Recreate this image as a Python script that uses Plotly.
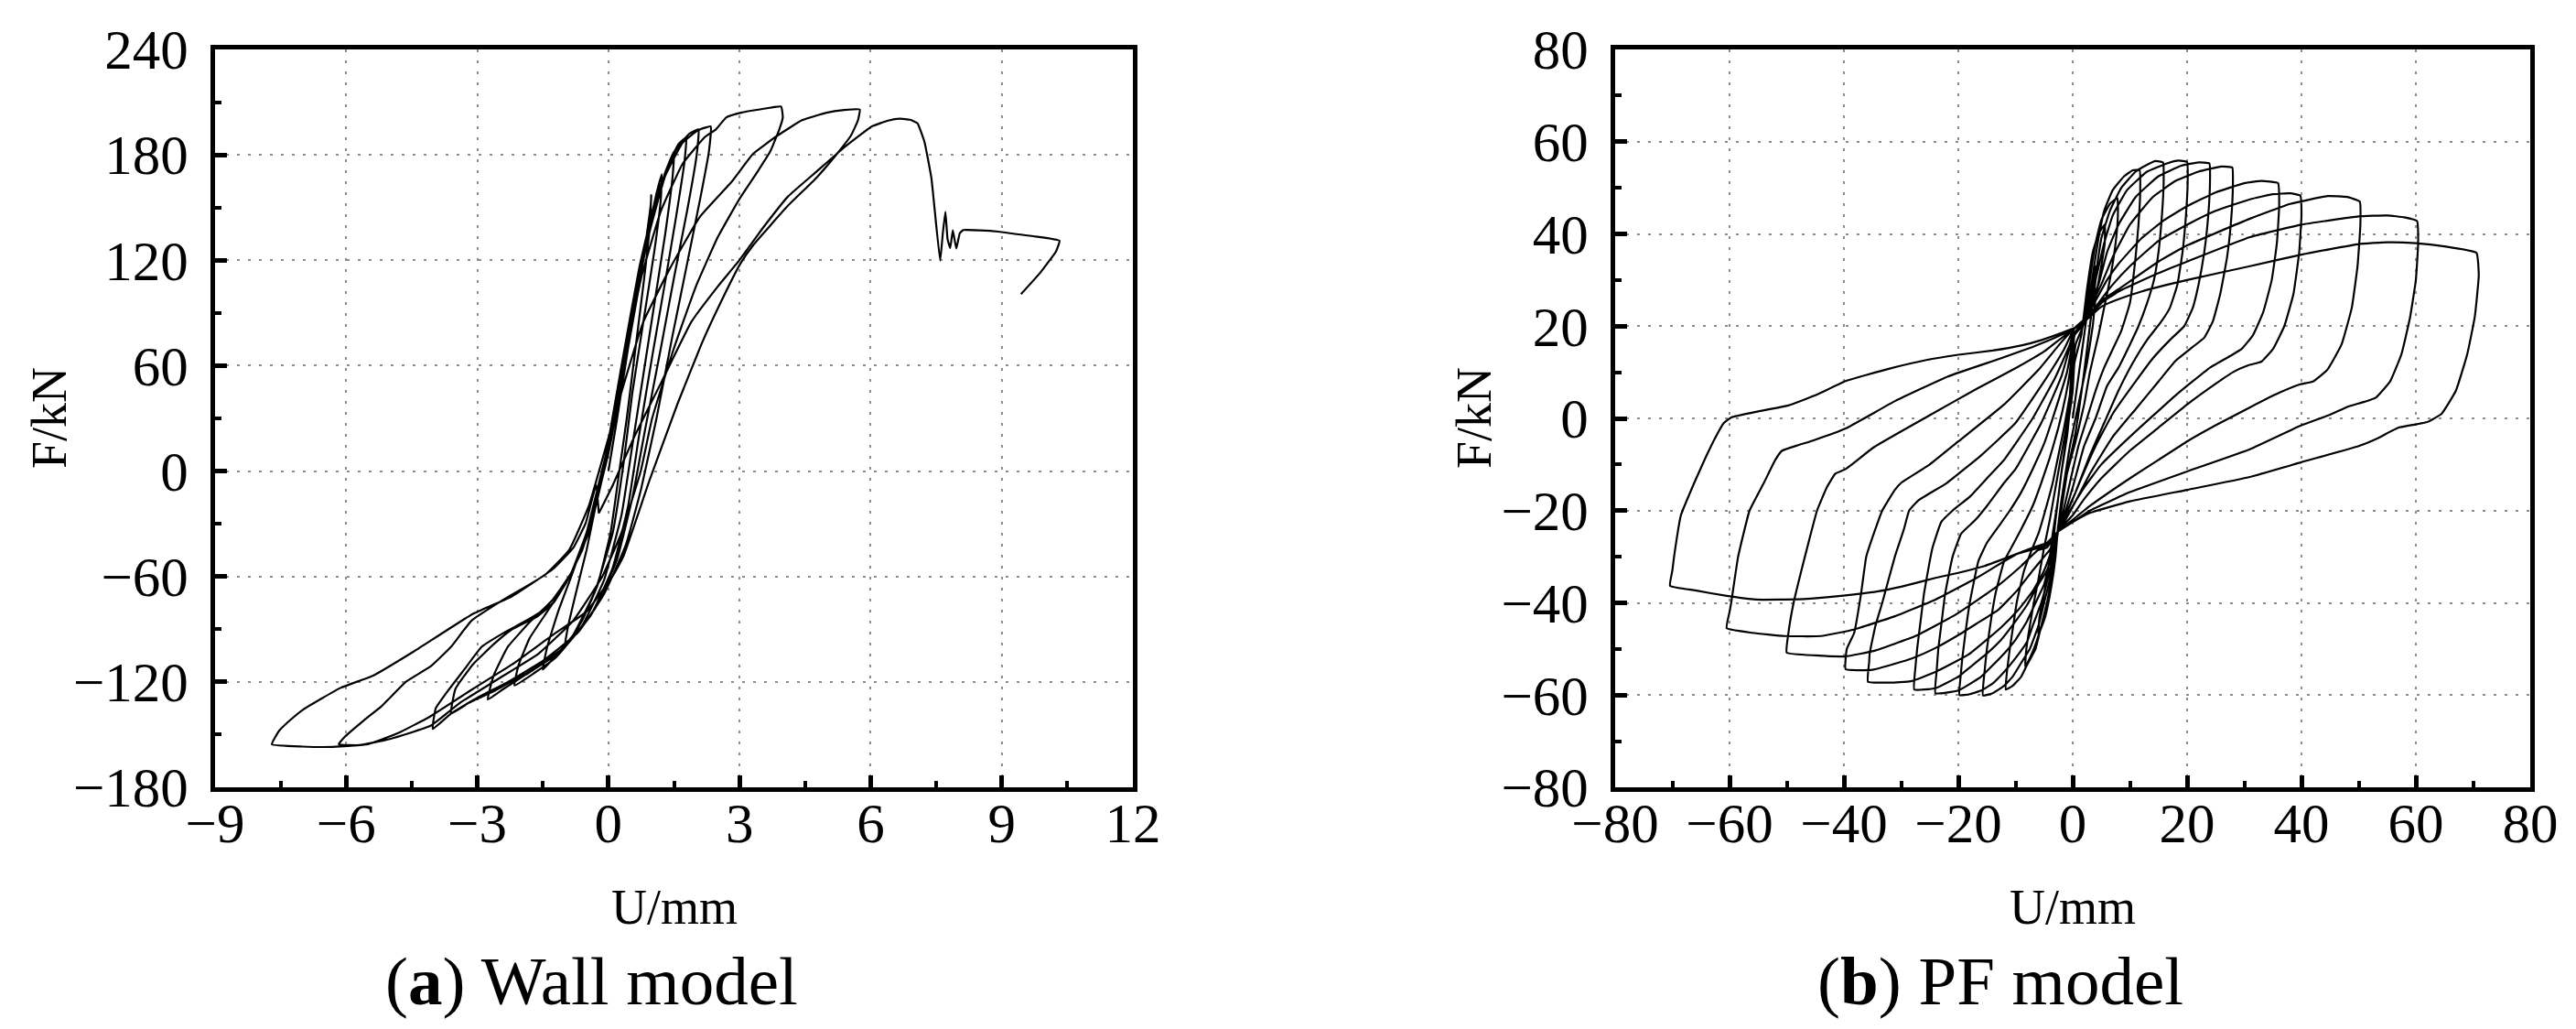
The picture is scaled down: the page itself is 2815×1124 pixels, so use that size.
import plotly.graph_objects as go

# ---------------- (a) Wall model: hysteresis loops, (U mm, F kN) ----------------
W_LOOP_01 = [(0, 0), (0.2, 30), (0.45, 70), (0.7, 105), (0.88, 135), (0.97, 152), (0.98, 157), (0.95, 140),
             (0.82, 110), (0.62, 70), (0.42, 30), (0.25, 0), (0.05, -35), (-0.25, -65), (-0.6, -85),
             (-0.85, -95), (-1.0, -100), (-0.92, -88), (-0.75, -70), (-0.5, -45), (-0.25, -15), (0.0, 10)]
W_LOOP_02 = [(0.3, 50), (0.6, 95), (0.9, 135), (1.1, 158), (1.22, 169), (1.2, 155), (1.05, 125), (0.8, 85),
             (0.55, 45), (0.35, 5), (0.1, -35), (-0.3, -68), (-0.8, -93), (-1.2, -105), (-1.5, -113),
             (-1.4, -100), (-1.15, -80), (-0.85, -60), (-0.5, -35), (-0.2, -8), (0.05, 20)]
W_LOOP_03 = [(0.35, 60), (0.7, 110), (1.0, 145), (1.3, 170), (1.5, 182), (1.47, 168), (1.3, 135), (1.05, 95),
             (0.8, 55), (0.55, 15), (0.3, -25), (-0.1, -62), (-0.6, -88), (-1.2, -106), (-1.7, -115),
             (-2.15, -122), (-2.05, -110), (-1.8, -95), (-1.4, -80), (-1.0, -65), (-0.6, -45), (-0.3, -20),
             (-0.05, 10)]
W_LOOP_04 = [(0.3, 60), (0.7, 115), (1.05, 152), (1.4, 176), (1.6, 186), (1.78, 190), (1.74, 176), (1.55, 145),
             (1.3, 108), (1.0, 65), (0.7, 20), (0.45, -20), (0.1, -55), (-0.4, -82), (-1.1, -103), (-1.9, -116),
             (-2.4, -124), (-2.76, -130), (-2.62, -116), (-2.3, -100), (-1.8, -86), (-1.3, -74), (-0.85, -58),
             (-0.45, -35), (-0.15, -5), (0.1, 25)]
W_LOOP_05 = [(0.4, 70), (0.8, 125), (1.2, 163), (1.55, 183), (1.85, 192), (2.06, 194.5), (2.02, 180), (1.8, 148),
             (1.5, 110), (1.2, 70), (0.85, 25), (0.55, -15), (0.2, -50), (-0.3, -78), (-1.0, -100), (-1.8, -114),
             (-2.6, -125), (-3.2, -132), (-3.6, -138), (-3.5, -124), (-3.1, -110), (-2.6, -98), (-2.2, -90),
             (-1.64, -83), (-1.26, -75), (-0.85, -58), (-0.45, -32), (-0.15, 0), (0.1, 25)]
W_LOOP_06 = [(0.45, 75), (0.9, 132), (1.3, 168), (1.7, 187), (2.05, 194), (2.34, 196.2), (2.3, 182), (2.1, 155),
             (1.8, 118), (1.45, 75), (1.1, 30), (0.75, -10), (0.4, -42), (-0.1, -70), (-0.7, -92), (-1.5, -108),
             (-2.3, -120), (-3.0, -129), (-3.6, -138), (-4.02, -146.8), (-3.95, -135), (-3.7, -126),
             (-3.3, -113), (-2.9, -100), (-2.39, -92), (-1.8, -84), (-1.26, -75), (-0.85, -58), (-0.5, -35),
             (-0.2, -5), (0.05, 20)]
W_LOOP_07 = [(0.35, 60), (0.75, 110), (1.2, 148), (1.7, 175), (2.2, 190), (2.46, 194.5), (2.7, 201.4),
             (3.03, 204), (3.5, 206), (3.95, 207.5), (3.99, 201.4), (3.91, 194.5), (3.71, 182.3), (3.4, 170),
             (3.0, 155), (2.5, 133), (2.0, 105), (1.5, 70), (1.0, 30), (0.74, 0), (0.3, -35), (-0.14, -60),
             (-0.8, -85), (-1.6, -104), (-2.5, -118), (-3.4, -132), (-4.07, -145), (-5.0, -152.5),
             (-5.7, -156), (-6.17, -155.5), (-6.03, -151.2), (-5.6, -142), (-5.19, -133.8), (-4.63, -119.9),
             (-4.07, -111.2), (-3.6, -100), (-3.13, -85.1), (-2.39, -73), (-1.45, -59.1), (-0.9, -45),
             (-0.45, -20), (-0.1, 10)]
W_LOOP_08 = [(0.3, 45), (0.8, 85), (1.4, 115), (2.1, 145), (2.83, 165), (3.31, 180.6), (3.87, 191),
             (4.43, 199.7), (4.99, 204), (5.4, 205.5), (5.75, 205.8), (5.71, 199.7), (5.55, 191), (5.23, 180.6),
             (4.75, 166.7), (4.11, 151.1), (3.31, 128.5), (3.02, 118.1), (2.55, 95), (2.14, 72.9), (1.58, 38.2),
             (0.94, -5.3), (0.34, -48.7), (0.09, -60), (-0.5, -80), (-1.26, -93), (-2.2, -110), (-3.1, -124),
             (-4.1, -140), (-4.8, -149), (-5.5, -155.5), (-6.3, -157), (-7.0, -156.8), (-7.7, -155.5),
             (-7.53, -147.7), (-7.2, -140), (-6.97, -135.5), (-6.13, -123.4), (-5.38, -116.4), (-4.44, -102.5),
             (-3.13, -81.7), (-2.2, -71.2), (-1.26, -55.6), (-0.8, -43.5), (-0.52, -29.6), (-0.28, -8),
             (-0.22, -24)]
W_LOOP_09 = [(-0.22, -24), (0.1, -8), (0.6, 20), (1.2, 50), (1.9, 85), (2.5, 105), (2.99, 119.8), (3.55, 138.9),
             (4.11, 156.3), (4.75, 170.2), (5.39, 184.1), (6.03, 196.2), (6.4, 199.5), (6.67, 200.6), (6.9, 200),
             (7.07, 198), (7.23, 187.5), (7.39, 166.7), (7.59, 119.8), (7.65, 135), (7.71, 147.6), (7.76, 132),
             (7.82, 127), (7.88, 137), (7.96, 126.7), (8.04, 135.4), (8.12, 137.2), (8.5, 137), (8.92, 136.3),
             (9.3, 135), (9.72, 133.7), (10.32, 131.1), (10.24, 125), (9.88, 112.9), (9.44, 100.7)]

# ---------------- (b) PF model: pinched hysteresis loops, (U mm, F kN) ----------------
PF_LOOP_04 = [(0, 0), (1, 9), (2, 18), (3, 27), (4, 33), (4, 30), (3, 20), (2, 10), (0.5, -3), (-1, -12),
              (-2, -20), (-3, -28), (-4, -36), (-3.8, -32), (-3, -22), (-2, -12), (-1, -3), (0, 6)]
PF_LOOP_06 = [(0.3, 12), (1.5, 18), (2.5, 28), (3.5, 36), (4.5, 40), (5.6, 42), (5.6, 38), (5, 33), (4, 26),
              (3.5, 20), (2.5, 12), (1, 3), (-0.5, -6), (-2, -18), (-2.6, -24), (-3, -30), (-3.8, -37),
              (-4.8, -43), (-6, -47), (-5.8, -43), (-5, -38), (-4.2, -32), (-3.5, -25), (-2.5, -17), (-2, -12),
              (-1, -4), (-0.5, 2), (0.5, 16)]
PF_LOOP_08 = [(1.8, 20), (2.5, 25), (3, 30), (4, 38), (5, 43), (6.5, 46.5), (7.8, 47.8), (7.9, 44), (7.5, 38),
              (6.5, 30), (5.5, 24), (4.5, 18), (3, 10), (2, 3), (0.5, -5), (-1, -12), (-2, -19), (-2.6, -24.6),
              (-3, -28), (-3.5, -33), (-4.5, -40), (-5.5, -45), (-6.5, -49), (-7.5, -52), (-8.3, -53.8),
              (-8.1, -50), (-7.5, -45), (-6.8, -40), (-6, -35), (-5, -28), (-4, -22), (-3, -15), (-2, -8),
              (-1, -1), (-0.5, 5), (0.3, 18)]
PF_LOOP_12 = [(2.3, 21), (2.8, 25), (3.5, 31), (4.5, 39), (5.5, 45), (7, 49.5), (9, 52.5), (10.5, 53.8),
              (11.7, 53.8), (11.8, 49), (11.5, 42), (11, 35), (10, 25), (8.5, 19), (7, 15), (5.5, 11), (4, 6),
              (2.5, 0), (1, -6), (-0.5, -14), (-1.8, -21), (-2.6, -24.6), (-3, -28), (-3.2, -32), (-3.8, -36),
              (-4.5, -40), (-5.5, -45), (-6.5, -50), (-8, -53.5), (-9, -56), (-10.5, -58), (-11.7, -58.8),
              (-11.5, -55), (-11, -50), (-10.4, -45), (-9.8, -40), (-8.5, -33), (-7, -28), (-6, -25), (-4.8, -20),
              (-3.5, -14), (-2.5, -8), (-1.5, -2), (-0.5, 5), (0, 10), (0.3, 18)]
PF_LOOP_16 = [(2.5, 22), (3.2, 27), (4, 31), (5, 39), (6.5, 45), (8.5, 50), (11, 53.5), (13, 55), (14.5, 55.8),
              (15.8, 55.5), (15.9, 51), (15.6, 44), (15, 36), (14.2, 30), (13, 25), (11.5, 20), (10, 16), (8, 11),
              (6, 7), (4, 0), (2, -6), (0, -15), (-1.5, -21), (-2.6, -24.6), (-3, -28), (-3.5, -31), (-4, -35),
              (-5, -40), (-6, -45), (-7.5, -50), (-9, -53), (-10.5, -56), (-12, -58), (-14, -59.6),
              (-15.7, -60.1), (-15.5, -56), (-15, -50), (-14.2, -43), (-13.5, -38), (-12, -31), (-10.5, -27.5),
              (-9, -24), (-7, -19), (-5.5, -14), (-4, -8.5), (-2.5, -2), (-1.2, 5), (-0.5, 10), (0.3, 18)]
PF_LOOP_20 = [(2.5, 22), (3.2, 26), (4, 30), (5.5, 38), (7, 44), (9.5, 49.5), (13, 53.5), (16.5, 55.3),
              (18.5, 55.9), (20, 55.6), (20.1, 51), (19.8, 44), (19.2, 36), (18.3, 29), (17, 24), (15.5, 21),
              (13, 17), (10.5, 12), (8, 6), (5.5, -1), (3, -8), (0.5, -16), (-1.5, -21.5), (-2.6, -24.6),
              (-3.1, -28), (-3.8, -32), (-4.8, -37), (-5.5, -40), (-7, -45), (-8, -48.5), (-10, -52), (-12, -55),
              (-14, -57.5), (-16, -59), (-18, -59.8), (-19.8, -60), (-19.6, -56), (-19.3, -52), (-18.7, -46),
              (-18, -40), (-16.5, -31), (-15, -27), (-13, -23.5), (-11, -20), (-9, -16), (-7, -11), (-5, -5.5),
              (-3.5, 0), (-1, 10), (0.3, 18)]
PF_LOOP_24 = [(2.5, 22), (3.5, 26), (4.5, 29), (6, 36), (8, 42), (11, 48), (15, 52.5), (19, 54.8), (22, 55.5),
              (23.9, 55.3), (24, 51), (23.7, 44), (23, 36), (22, 29), (21, 24), (19.5, 20), (17, 17), (14, 13),
              (11, 8), (7, 1), (4, -6), (1.5, -13), (-0.5, -19), (-2.6, -24.6), (-3.2, -28), (-4, -31), (-5, -36),
              (-6.5, -40), (-8, -44), (-10, -48), (-12, -51), (-16, -56), (-20, -59), (-24, -59.6),
              (-23.8, -55), (-23.5, -50), (-22.9, -44), (-22.3, -38), (-21, -30), (-19.5, -25), (-17, -22),
              (-15, -19), (-12, -14), (-10, -11), (-5.5, -1), (-2, 9), (0.3, 18.5)]
PF_LOOP_28 = [(2.5, 22), (3.8, 26), (5, 29), (7, 35), (10, 42), (14, 48), (18, 51.5), (22, 53.5), (26, 54.6),
              (27.9, 54.4), (28, 50), (27.7, 43), (27, 35), (25.8, 27), (24.5, 21), (23, 17.5), (21, 15.5),
              (18, 12.5), (15, 8), (11, 2), (7, -4), (3, -12), (0.5, -18), (-1.5, -22.5), (-2.6, -24.6),
              (-3.5, -29), (-4.5, -33), (-6, -36), (-8, -40.5), (-10, -44), (-12.5, -48), (-15, -51), (-18, -54),
              (-20, -56), (-24, -58.5), (-27.7, -58.8), (-27.5, -54), (-27.2, -50), (-26.6, -44), (-26, -38),
              (-25, -31), (-24.5, -28), (-23, -22.5), (-21, -20), (-18, -17), (-15, -13), (-12, -9), (-7, 0),
              (-3, 9), (-0.5, 16), (0.3, 19.5)]
PF_LOOP_36 = [(2.5, 22), (4, 25.5), (6, 30), (8, 33.5), (12, 39), (16, 43), (20, 46), (25, 49), (30, 51),
              (33, 51.5), (35.9, 51), (36.1, 46), (35.7, 38), (34.8, 30), (33.3, 23), (31.5, 18), (29.5, 15),
              (27.5, 13.5), (24, 11), (18, 5), (10, -4), (5, -10), (2, -15), (0, -19), (-2.6, -24.6), (-3.5, -28),
              (-5, -33), (-6.9, -37.3), (-9.5, -41.5), (-12.5, -45.3), (-18.2, -51.2), (-24, -55), (-28.3, -57),
              (-32, -57.3), (-35.8, -57.1), (-35.6, -53), (-35.5, -51), (-34.5, -45), (-33.3, -40), (-31.1, -30),
              (-29.5, -24), (-28.6, -20), (-26.9, -17.7), (-22, -14), (-16, -8), (-10, -1), (-5, 8), (-1.5, 15),
              (0.3, 19.5)]
PF_LOOP_40 = [(2.5, 21.5), (4.5, 25), (7, 29), (10, 33), (15, 38.5), (20, 42), (25, 45), (31, 47.5), (35, 48.6),
              (38, 48.8), (39.8, 48.3), (40, 44), (39.6, 36), (38.6, 27), (37, 20), (35, 15), (33, 12.3),
              (30.7, 11.5), (28, 10), (25, 7.5), (20, 3), (15, -2), (10, -7), (5, -13), (2, -17.5), (0, -21),
              (-2.6, -24.6), (-4, -28.5), (-4.6, -29.4), (-7, -33), (-9.7, -37.3), (-13, -41.5), (-16.8, -44.5),
              (-20, -47), (-24, -49.8), (-28, -52), (-31.1, -53.2), (-35, -54.5), (-39.7, -54.4), (-39.5, -50),
              (-38.2, -46.5), (-37, -38), (-36.1, -30), (-34.5, -24), (-33.3, -20), (-31.1, -15.5), (-30, -14),
              (-25, -10), (-20, -5), (-12, 3), (-6, 10.5), (-2, 16.5), (0.3, 19.5)]
PF_LOOP_50 = [(2.5, 21.5), (5, 25.5), (8, 28), (15, 34), (20, 37.5), (31, 43.3), (38, 46.5), (44.6, 48.2),
              (48, 48), (50.2, 47), (50.3, 42), (49.8, 33), (48.8, 24), (47, 16), (44.5, 10.5), (42, 8),
              (39.8, 7.4), (36, 5.5), (31, 2.4), (25, -1.5), (20, -5), (15, -9), (10, -13), (3, -19), (0, -22),
              (-2.6, -24.6), (-4.5, -28), (-6.1, -28.6), (-9, -32), (-13.3, -36.5), (-20.4, -42.5),
              (-27.5, -47.2), (-34.7, -50.4), (-39.7, -51.6), (-45, -51.4), (-50, -50.8), (-49.7, -46.5),
              (-48.8, -40), (-47.5, -33.3), (-46, -26), (-44.7, -20), (-43, -15), (-41.5, -12), (-39.7, -11),
              (-34.7, -6.2), (-25.4, 0.4), (-16.8, 6.4), (-9.8, 11), (-5, 14.5), (-2.4, 17), (0.3, 19.5)]
PF_LOOP_60 = [(2.5, 21.5), (5, 25), (8, 27.5), (15, 31.5), (20, 34), (31, 39.3), (40, 42), (50, 43.8), (55, 44),
              (58, 43.6), (60.2, 42.8), (60.4, 38), (60, 30), (59, 22), (57.5, 14), (55.5, 8), (53, 4.5),
              (51, 3.6), (48, 2.5), (45, 0.8), (40, -1.5), (31, -6.7), (20, -11.5), (10, -16), (3, -20),
              (0, -22.5), (-2.6, -24.6), (-4.5, -27.5), (-9.7, -29.4), (-16.8, -34.6), (-24, -39.3),
              (-31.1, -42.9), (-38.3, -45.8), (-44, -47.2), (-50.4, -47.2), (-56, -46.5), (-60.5, -45.5),
              (-60, -42), (-59.7, -39.9), (-58.5, -30), (-56.5, -20), (-54, -14), (-52, -9), (-50.8, -7),
              (-48, -5.8), (-45.4, -4.8), (-39.7, -2.2), (-31, 3.8), (-21.8, 9.1), (-12.6, 13), (-7, 15.5),
              (-4, 17), (0.3, 19.5)]
PF_LOOP_70 = [(2.5, 21.5), (5, 24.2), (7.5, 25.6), (12, 27.5), (20, 30), (31, 33), (40, 35.5), (50, 37.8),
              (55, 38.2), (60, 38), (65, 37.3), (70.6, 35.9), (71, 31), (70.3, 22), (69, 14), (67, 6), (64.5, 1),
              (62, -0.8), (60, -1.3), (57, -2), (53, -4.5), (50, -6), (40, -9.5), (31, -12.7), (20, -15.5),
              (10, -18), (3, -20.5), (0, -22.5), (-2.6, -24.6), (-4.5, -27), (-6.9, -28), (-10, -29.5),
              (-15.4, -32), (-20, -33.5), (-24, -34.6), (-30, -36.5), (-34, -37.5), (-40.5, -38.5), (-47, -39.2),
              (-55.4, -39.3), (-60.5, -38.5), (-66, -37.3), (-70.4, -36.3), (-70, -33), (-69.7, -30),
              (-68.5, -21), (-66, -13.5), (-64, -8), (-62.5, -4.2), (-61, -1), (-59.7, 0.2), (-55, 1.5),
              (-49.7, 2.8), (-45, 5), (-39.7, 8.1), (-32, 10.8), (-25.4, 12.7), (-20, 13.8), (-14, 14.7),
              (-9, 15.8), (-5.4, 17), (-2, 18.5), (0.3, 19.6)]

WALL_LOOPS = [W_LOOP_01, W_LOOP_02, W_LOOP_03, W_LOOP_04, W_LOOP_05, W_LOOP_06, W_LOOP_07, W_LOOP_08, W_LOOP_09]
PF_LOOPS = [PF_LOOP_04, PF_LOOP_06, PF_LOOP_08, PF_LOOP_12, PF_LOOP_16, PF_LOOP_20, PF_LOOP_24, PF_LOOP_28,
            PF_LOOP_36, PF_LOOP_40, PF_LOOP_50, PF_LOOP_60, PF_LOOP_70]

WALL_X_TICKS = [-9, -6, -3, 0, 3, 6, 9, 12]
WALL_Y_TICKS = [-180, -120, -60, 0, 60, 120, 180, 240]
PF_X_TICKS = [-80, -60, -40, -20, 0, 20, 40, 60, 80]
PF_Y_TICKS = [-80, -60, -40, -20, 0, 20, 40, 60, 80]

# ---------------- figure ----------------
W, H = 2815, 1124
FONT = "Liberation Serif"
fig = go.Figure()


def path(loops):
    xs, ys = [], []
    for lp in loops:
        for u, f in lp:
            xs.append(u)
            ys.append(f)
    return xs, ys


for loops, xa, ya in [(WALL_LOOPS, "x", "y"), (PF_LOOPS, "x2", "y2")]:
    xs, ys = path(loops)
    fig.add_trace(go.Scatter(x=xs, y=ys, mode="lines", xaxis=xa, yaxis=ya, showlegend=False,
                             hoverinfo="skip",
                             line=dict(color="black", width=2.2, shape="spline", smoothing=0.35)))


def axis_style(ticks, minor_step, domain, anchor, standoff):
    return dict(domain=domain, anchor=anchor, range=[ticks[0], ticks[-1]], tickvals=ticks,
                automargin=False,
                showgrid=True, gridcolor="#8c8c8c", gridwidth=2, griddash="3px,9px",
                zeroline=False, showline=True, linecolor="black", linewidth=5, mirror=True,
                ticks="inside", ticklen=13, tickwidth=5, tickcolor="black",
                ticklabelstandoff=standoff,
                minor=dict(ticks="inside", ticklen=7, tickwidth=4, tickcolor="black",
                           tick0=ticks[0], dtick=minor_step, showgrid=False),
                tickfont=dict(family=FONT, size=61, color="black"), fixedrange=True)


ydom = [(H - 852) / H, (H - 46) / H]
fig.update_layout(
    template="none",
    width=W, height=H, margin=dict(l=0, r=0, t=0, b=0, pad=0),
    paper_bgcolor="white", plot_bgcolor="white",
    xaxis=axis_style(WALL_X_TICKS, 1.5, [227 / W, 1230 / W], "y", -18),
    yaxis=axis_style(WALL_Y_TICKS, 30, ydom, "x", 12),
    xaxis2=axis_style(PF_X_TICKS, 10, [1757 / W, 2757 / W], "y2", -18),
    yaxis2=axis_style(PF_Y_TICKS, 10, ydom, "x2", 12),
)

ann = []
for cx, ylab_x in [(728.5, 46), (2257, 1603)]:
    ann.append(dict(x=cx / W, y=1 - 983 / H, xref="paper", yref="paper", text="U/mm", showarrow=False,
                    xanchor="center", yanchor="middle", font=dict(family=FONT, size=54, color="black")))
    ann.append(dict(x=ylab_x / W, y=1 - 449 / H, xref="paper", yref="paper", text="F/kN", showarrow=False,
                    textangle=-90, xanchor="center", yanchor="middle",
                    font=dict(family=FONT, size=54, color="black")))
for cx, txt in [(638, "(<b>a</b>) Wall model"), (2178, "(<b>b</b>) PF model")]:
    ann.append(dict(x=cx / W, y=1 - 1063 / H, xref="paper", yref="paper", text=txt, showarrow=False,
                    xanchor="center", yanchor="middle", font=dict(family=FONT, size=75, color="black")))
fig.update_layout(annotations=ann)

fig.write_html("out.html")
